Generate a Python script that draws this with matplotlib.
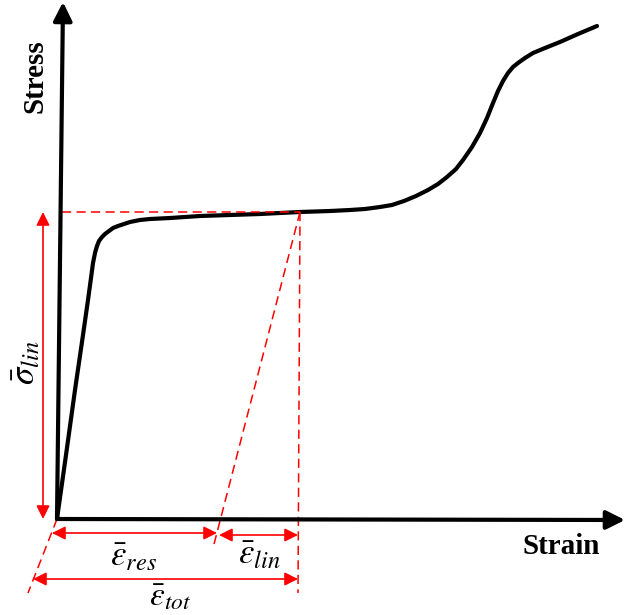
import numpy as np
from matplotlib import pyplot as plt

plt.rcParams['mathtext.fontset'] = 'stix'

# Stress-strain curve, traced in drawing units (x right, y down)
curve_x = [57, 66, 75, 83, 88, 91, 93, 95, 97, 99, 102, 105, 109, 113, 118, 124,
           130, 140, 150, 170, 200, 230, 260, 300, 330, 350, 365, 380, 392,
           404, 416, 428, 438, 447, 456, 463, 472, 480, 487, 493, 498, 503,
           508, 513, 518, 525, 533, 545, 560, 578, 597]
curve_y = [519, 455, 390, 335, 300, 278, 263, 253, 246, 241, 237, 234, 231, 228, 226, 224,
           222, 220, 219, 218, 216, 215, 214, 212, 211, 210, 209, 207, 205,
           201, 196, 190, 184, 177, 169, 160, 147, 133, 118, 103, 91, 81,
           73, 67, 63, 58, 53, 48, 42, 34, 26]

origin = (57, 519)
yield_pt = (300, 212)      # point on the plateau where unloading starts
eps_res_end = 217          # strain left after unloading
eps_tot_end = 298          # total strain

fig = plt.figure(figsize=(6.26, 6.15), dpi=100)
ax = fig.add_axes([0, 0, 1, 1])
ax.set_xlim(0, 626)
ax.set_ylim(615, 0)
ax.axis('off')

# axes with arrow heads
axis_props = dict(arrowstyle='-|>', color='black', lw=3, mutation_scale=28,
                  shrinkA=0, shrinkB=0)
ax.annotate('', xy=(63, 2), xytext=origin, arrowprops=axis_props)
ax.annotate('', xy=(625, 520), xytext=origin, arrowprops=axis_props)

ax.plot(curve_x, curve_y, color='black', lw=3, solid_capstyle='round',
        solid_joinstyle='round')

# red construction lines
dash = dict(color='red', lw=1.1, dashes=(6, 3.5))
ax.plot([62, yield_pt[0]], [yield_pt[1], yield_pt[1]], **dash)
ax.plot([yield_pt[0], 298], [yield_pt[1], 593], **dash)
ax.plot([yield_pt[0], 213], [yield_pt[1], 548], **dash)
ax.plot([origin[0], 28], [origin[1], 593], **dash)

# dimension arrows
dim = dict(arrowstyle='<|-|>', color='red', lw=1.2, mutation_scale=20,
           shrinkA=0, shrinkB=0)
ax.annotate('', xy=(43, 212), xytext=(43, 519), arrowprops=dim)
ax.annotate('', xy=(52, 533), xytext=(eps_res_end, 533), arrowprops=dim)
ax.annotate('', xy=(eps_res_end + 2, 535), xytext=(eps_tot_end, 535), arrowprops=dim)
ax.annotate('', xy=(33, 579), xytext=(eps_tot_end, 579), arrowprops=dim)

# labels
lbl = dict(family='Liberation Serif', fontweight='bold', fontsize=21)
ax.text(35, 76, 'Stress', rotation=90, ha='center', va='center', **lbl)
ax.text(561, 547, 'Strain', ha='center', va='center', **lbl)

ax.text(25, 363, r'$\bar{\sigma}_{lin}$', rotation=90,
        ha='center', va='center', fontsize=25)
ax.text(134, 556, r'$\bar{\varepsilon}_{res}$', ha='center', va='center', fontsize=25)
ax.text(260, 554, r'$\bar{\varepsilon}_{lin}$', ha='center', va='center', fontsize=25)
ax.text(170, 596, r'$\bar{\varepsilon}_{tot}$', ha='center', va='center', fontsize=24)

plt.savefig('out.png', dpi=100)
